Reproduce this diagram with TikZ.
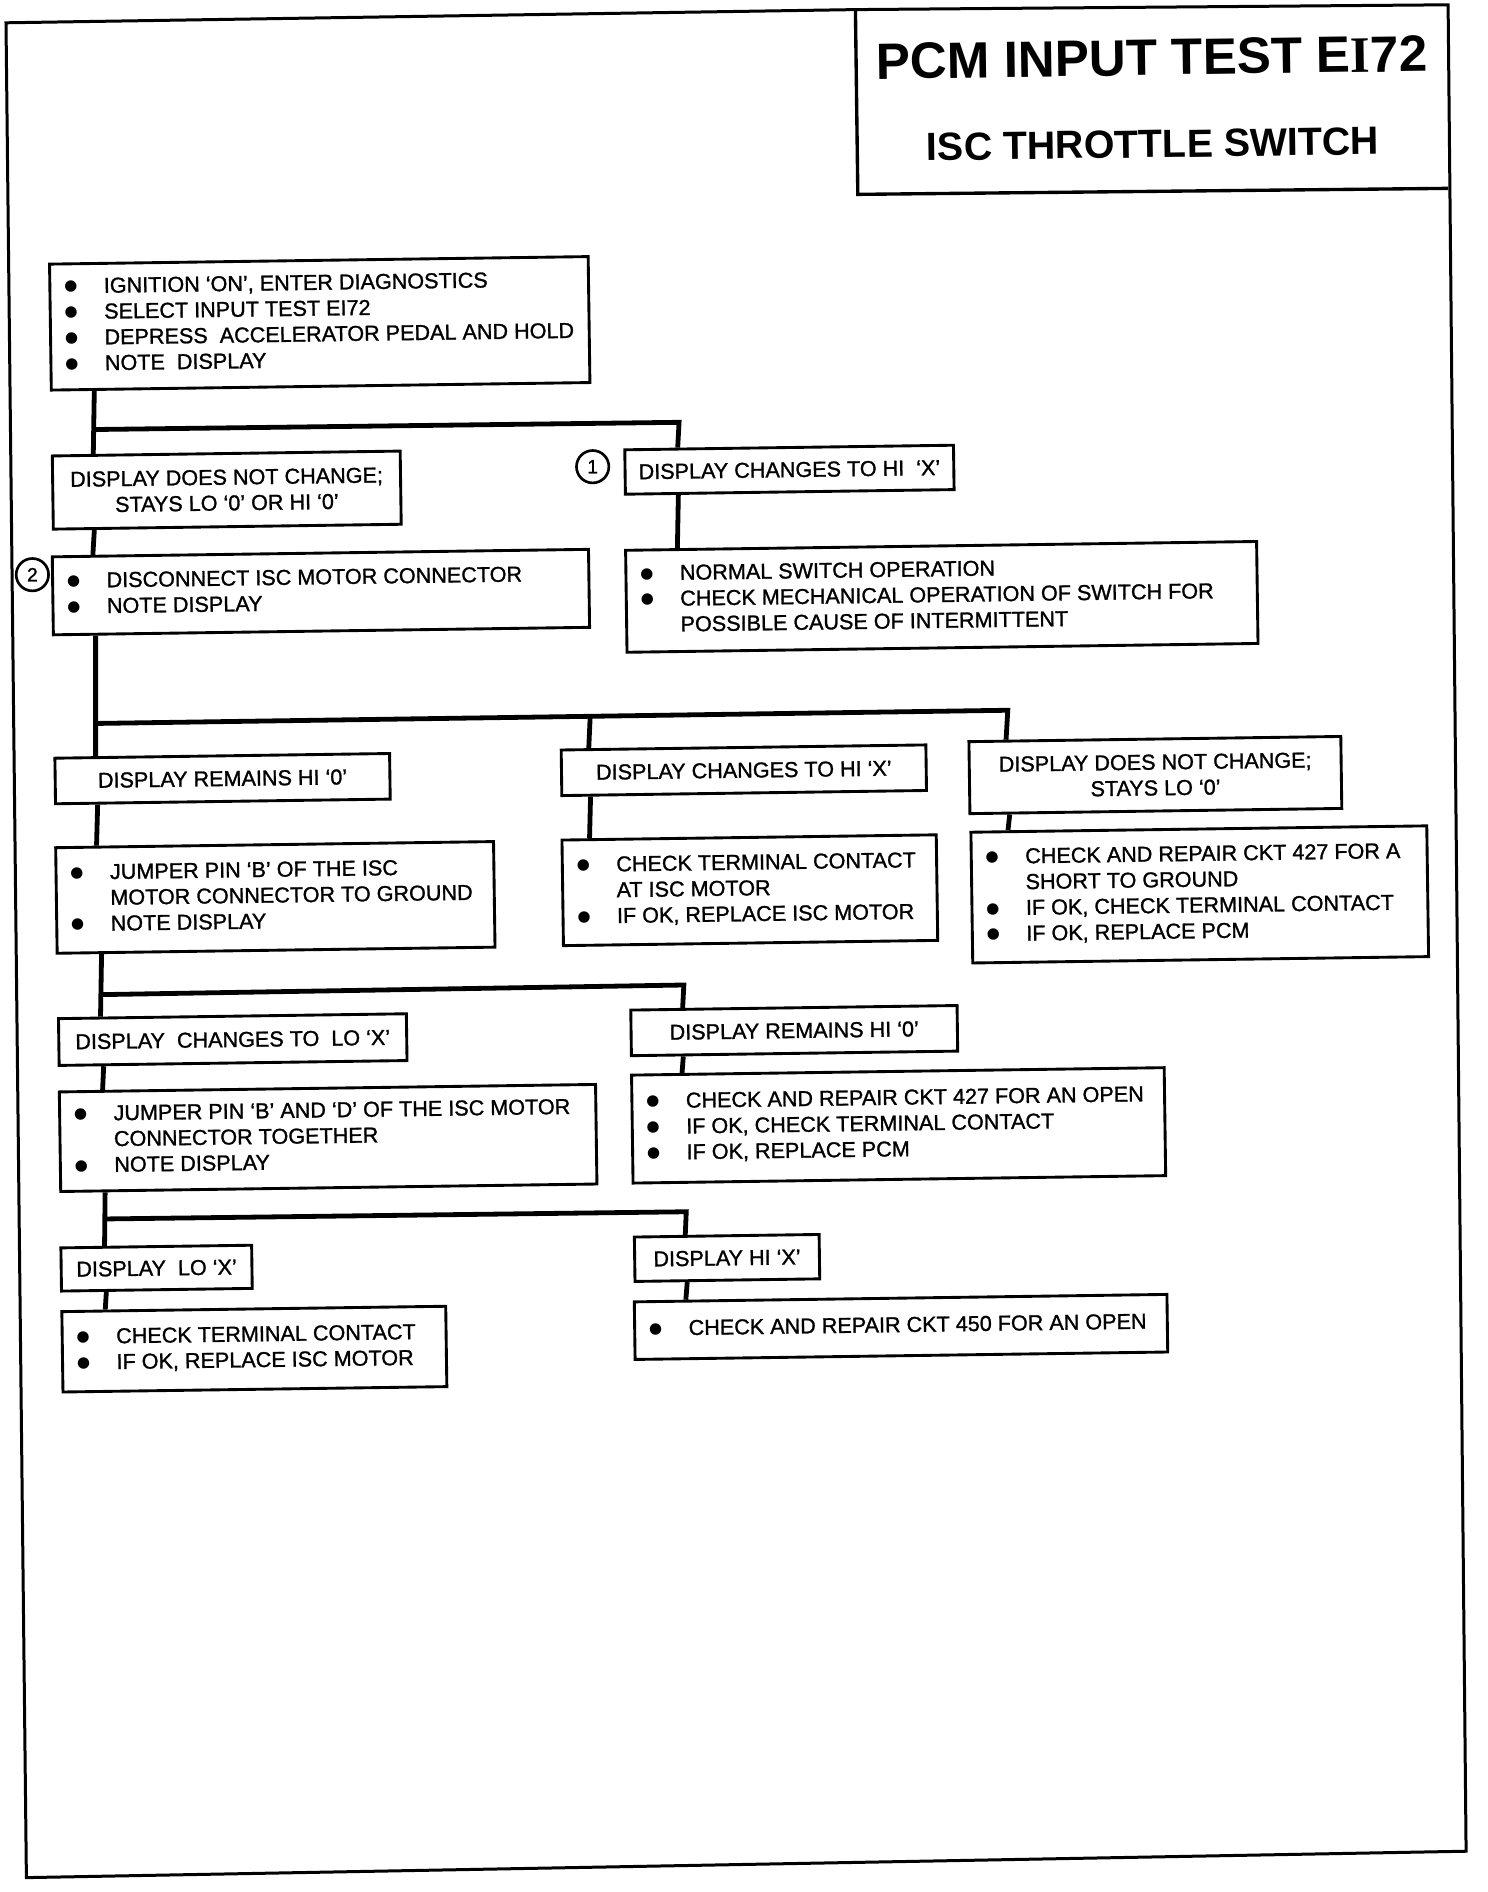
\documentclass[tikz,border=0pt]{standalone}
\usepackage{fontspec}
\setmainfont{Liberation Sans}
\newfontface\bodyface{Liberation Sans}[FakeBold=1.2]
\newfontfamily\serifI{Liberation Serif}
\newfontfamily\dejavu{DejaVu Sans}
\usetikzlibrary{calc}
\newcommand{\bodyfont}{\bodyface\fontsize{18}{21.5}\selectfont}
\newcommand{\bdot}{\raisebox{2pt}{\dejavu\fontsize{12.5}{12.5}\selectfont ●}}
\newcommand{\bi}{\makebox[33pt][l]{\bdot}}
\newcommand{\ci}{\hspace*{33pt}}
\newcommand{\blines}[2]{\makebox[#1pt][l]{\begin{tabular}{@{}l@{}}#2\end{tabular}}}
\tikzset{
  box/.style={draw, line width=2.4pt, rotate=0.8, inner sep=0pt, font=\bodyfont},
  cbox/.style={box, align=center},
  lbox/.style={box, inner xsep=12pt},
  conn/.style={line width=4pt, line join=miter},
  frame/.style={line width=2.5pt, line join=miter},
  num/.style={circle, draw, line width=2.2pt, minimum size=27pt, inner sep=0pt, font=\bodyface\fontsize{16}{16}\selectfont},
  ttl/.style={inner sep=0pt, rotate=0.8}
}
\begin{document}
\begin{tikzpicture}[x=1pt,y=-1pt]
\useasboundingbox[fill=white] (0,0) rectangle (1240,1577);
% outer frame and title box
\draw[frame] (5,19) -- (713,8) -- (1207,4) -- (1222,1543) -- (22,1565) -- cycle;
\draw[frame, line width=2.8pt] (713,8) -- (715,162) -- (1207,157);
\node[ttl, font=\fontsize{42.6}{42.6}\selectfont\bfseries] (t1) at (960,48) {PCM INPUT TEST E{\serifI\bfseries I}72};
\node[ttl, font=\fontsize{32.8}{32.8}\selectfont\bfseries] (t2) at (961,120) {ISC THROTTLE SWITCH};

% boxes
\node[lbox, minimum width=449, minimum height=105] (b1) at (266.5,269.5)
  {\blines{425}{\bi IGNITION ‘ON’, ENTER DIAGNOSTICS\\ \bi SELECT INPUT TEST EI72\\ \bi DEPRESS\ \ ACCELERATOR PEDAL AND HOLD\\ \bi NOTE\ \ DISPLAY}};
\node[cbox, minimum width=290, minimum height=61] (b2) at (189,408.5)
  {DISPLAY DOES NOT CHANGE;\\ STAYS LO ‘0’ OR HI ‘0’};
\node[cbox, minimum width=274, minimum height=37] (b3) at (658,391.5)
  {DISPLAY CHANGES TO HI\ \ ‘X’};
\node[lbox, minimum width=526, minimum height=85] (b4) at (785,497.5)
  {\blines{502}{\bi NORMAL SWITCH OPERATION\\ \bi CHECK MECHANICAL OPERATION OF SWITCH FOR\\ \ci POSSIBLE CAUSE OF INTERMITTENT}};
\node[lbox, minimum width=447, minimum height=65] (b5) at (267.5,493.5)
  {\blines{423}{\bi DISCONNECT ISC MOTOR CONNECTOR\\ \bi NOTE DISPLAY}};
\node[cbox, minimum width=279, minimum height=38] (b6) at (185.5,649)
  {DISPLAY REMAINS HI ‘0’};
\node[cbox, minimum width=304, minimum height=38] (b7) at (620,642)
  {DISPLAY CHANGES TO HI ‘X’};
\node[cbox, minimum width=310, minimum height=60] (b8) at (963,646)
  {DISPLAY DOES NOT CHANGE;\\ STAYS LO ‘0’};
\node[lbox, minimum width=365, minimum height=88] (b9) at (229.5,748)
  {\blines{341}{\bi JUMPER PIN ‘B’ OF THE ISC\\ \ci MOTOR CONNECTOR TO GROUND\\ \bi NOTE DISPLAY}};
\node[lbox, minimum width=312, minimum height=88] (b10) at (625,742)
  {\blines{288}{\bi CHECK TERMINAL CONTACT\\ \ci AT ISC MOTOR\\ \bi IF OK, REPLACE ISC MOTOR}};
\node[lbox, minimum width=380, minimum height=109] (b11) at (1000,745.5)
  {\blines{356}{\bi CHECK AND REPAIR CKT 427 FOR A\\ \ci SHORT TO GROUND\\ \bi IF OK, CHECK TERMINAL CONTACT\\ \bi IF OK, REPLACE PCM}};
\node[cbox, minimum width=290, minimum height=39] (b12) at (194,866.5)
  {DISPLAY\ \ CHANGES TO\ \ LO ‘X’};
\node[cbox, minimum width=272, minimum height=38] (b13) at (662,859)
  {DISPLAY REMAINS HI ‘0’};
\node[lbox, minimum width=447, minimum height=83] (b14) at (273.5,948.5)
  {\blines{423}{\bi JUMPER PIN ‘B’ AND ‘D’ OF THE ISC MOTOR\\ \ci CONNECTOR TOGETHER\\ \bi NOTE DISPLAY}};
\node[lbox, minimum width=444, minimum height=90] (b15) at (749,938)
  {\blines{420}{\bi CHECK AND REPAIR CKT 427 FOR AN OPEN\\ \bi IF OK, CHECK TERMINAL CONTACT\\ \bi IF OK, REPLACE PCM}};
\node[cbox, minimum width=159, minimum height=36] (b16) at (130.5,1057)
  {DISPLAY\ \ LO ‘X’};
\node[cbox, minimum width=154, minimum height=37] (b17) at (606,1048.5)
  {DISPLAY HI ‘X’};
\node[lbox, minimum width=320, minimum height=67] (b18) at (212,1124.5)
  {\blines{296}{\bi CHECK TERMINAL CONTACT\\ \bi IF OK, REPLACE ISC MOTOR}};
\node[lbox, minimum width=444, minimum height=48] (b19) at (751,1106)
  {\blines{420}{\bi CHECK AND REPAIR CKT 450 FOR AN OPEN}};

% step numbers
\node[num] (n1) at (494,389) {1};
\node[num] (n2) at (27,479) {2};

% bus junctions
\coordinate (a1) at (79,358);
\coordinate (a2) at (566,352);
\coordinate (bb1) at (80,603);
\coordinate (bb2) at (840,592);
\coordinate (bbm) at ($(bb1)!0.542!(bb2)$);
\coordinate (cc1) at (85,829);
\coordinate (cc2) at (570,821);
\coordinate (dd1) at (88,1016);
\coordinate (dd2) at (572,1010);

% connectors
\draw[conn] ($(b1.south west)!0.082!(b1.south east)$) -- ($(b2.north west)!0.121!(b2.north east)$);
\draw[conn] (a1) -- (a2) -- ($(b3.north west)!0.164!(b3.north east)$);
\draw[conn] ($(b3.south west)!0.164!(b3.south east)$) -- ($(b4.north west)!0.084!(b4.north east)$);
\draw[conn] ($(b2.south west)!0.121!(b2.south east)$) -- ($(b5.north west)!0.078!(b5.north east)$);
\draw[conn] ($(b5.south west)!0.081!(b5.south east)$) -- ($(b6.north west)!0.125!(b6.north east)$);
\draw[conn] (bb1) -- (bb2) -- ($(b8.north west)!0.103!(b8.north east)$);
\draw[conn] (bbm) -- ($(b7.north west)!0.079!(b7.north east)$);
\draw[conn] ($(b6.south west)!0.129!(b6.south east)$) -- ($(b9.north west)!0.096!(b9.north east)$);
\draw[conn] ($(b7.south west)!0.082!(b7.south east)$) -- ($(b10.north west)!0.077!(b10.north east)$);
\draw[conn] ($(b8.south west)!0.11!(b8.south east)$) -- ($(b11.north west)!0.084!(b11.north east)$);
\draw[conn] ($(b9.south west)!0.104!(b9.south east)$) -- ($(b12.north west)!0.124!(b12.north east)$);
\draw[conn] (cc1) -- (cc2) -- ($(b13.north west)!0.162!(b13.north east)$);
\draw[conn] ($(b12.south west)!0.131!(b12.south east)$) -- ($(b14.north west)!0.083!(b14.north east)$);
\draw[conn] ($(b13.south west)!0.162!(b13.south east)$) -- ($(b15.north west)!0.097!(b15.north east)$);
\draw[conn] ($(b14.south west)!0.085!(b14.south east)$) -- ($(b16.north west)!0.233!(b16.north east)$);
\draw[conn] (dd1) -- (dd2) -- ($(b17.north west)!0.279!(b17.north east)$);
\draw[conn] ($(b16.south west)!0.239!(b16.south east)$) -- ($(b18.north west)!0.116!(b18.north east)$);
\draw[conn] ($(b17.south west)!0.286!(b17.south east)$) -- ($(b19.north west)!0.099!(b19.north east)$);
\end{tikzpicture}
\end{document}
